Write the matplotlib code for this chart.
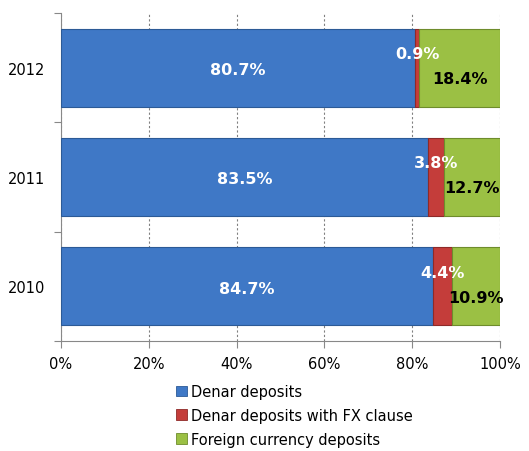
import matplotlib
matplotlib.use("Agg")
import matplotlib.pyplot as plt
from matplotlib.patches import Patch

years = ["2010", "2011", "2012"]
denar = [84.7, 83.5, 80.7]
denar_fx = [4.4, 3.8, 0.9]
foreign = [10.9, 12.7, 18.4]
series_names = ["Denar deposits", "Denar deposits with FX clause", "Foreign currency deposits"]
xticks = [0, 20, 40, 60, 80, 100]
xtick_labels = ["0%", "20%", "40%", "60%", "80%", "100%"]

colors = ["#3F78C6", "#C43D3A", "#9BC044"]
edges = ["#2C5A96", "#8E2A28", "#6E8C2C"]

W, H = 529, 452
fig = plt.figure(figsize=(W / 100, H / 100), dpi=100)
ax = fig.add_axes([61 / W, (H - 342) / H, (500 - 61) / W, (342 - 14) / H])

ypos = list(range(len(years)))
bh = 0.714
lefts = [0.0] * len(years)
for vals, c, e in zip([denar, denar_fx, foreign], colors, edges):
    ax.barh(ypos, vals, left=lefts, height=bh, color=c, edgecolor=e, linewidth=0.8, zorder=3)
    lefts = [l + v for l, v in zip(lefts, vals)]

for i in ypos:
    ax.annotate(f"{denar[i]:.1f}%", (denar[i] / 2, i), xytext=(0, -2), textcoords="offset pixels",
                ha="center", va="center", color="white", fontsize=11.5, fontweight="bold", zorder=5)
    x1 = denar[i]
    ax.annotate(f"{denar_fx[i]:.1f}%", (x1 + denar_fx[i] / 2, i), xytext=(0, 14), textcoords="offset pixels",
                ha="center", va="center", color="white", fontsize=11.5, fontweight="bold", zorder=5)
    x2 = denar[i] + denar_fx[i]
    ax.annotate(f"{foreign[i]:.1f}%", (x2 + foreign[i] / 2, i), xytext=(0, -11), textcoords="offset pixels",
                ha="center", va="center", color="black", fontsize=11.5, fontweight="bold", zorder=5)

ax.set_xlim(0, 100)
ax.set_ylim(-0.5, len(years) - 0.5)
ax.set_xticks(xticks)
ax.set_xticklabels(xtick_labels, fontsize=10.5)
ax.tick_params(axis="x", length=5, width=0.8, color="#888888", pad=6)

ax.set_yticks([-0.5, 0.5, 1.5, 2.5])
ax.set_yticklabels([])
ax.tick_params(axis="y", which="major", length=5, width=0.8, color="#888888")
ax.set_yticks(ypos, minor=True)
ax.set_yticklabels(years, minor=True, fontsize=10.5)
ax.tick_params(axis="y", which="minor", length=0, pad=11.5)

ax.grid(axis="x", linestyle=(0, (2, 2)), color="#808080", linewidth=0.8, zorder=0)
for s in ["top", "right"]:
    ax.spines[s].set_visible(False)
for s in ["left", "bottom"]:
    ax.spines[s].set_color("#888888")
    ax.spines[s].set_linewidth(0.8)

handles = [Patch(facecolor=c, edgecolor=e, linewidth=0.6) for c, e in zip(colors, edges)]
fig.legend(handles, series_names, loc="upper left", bbox_to_anchor=(176 / W, 1 - 385 / H),
           frameon=False, fontsize=10.5, handlelength=0.75, handleheight=0.75, handletextpad=0.25,
           labelspacing=0.6, borderpad=0, borderaxespad=0)

fig.savefig("out.png", dpi=100)
